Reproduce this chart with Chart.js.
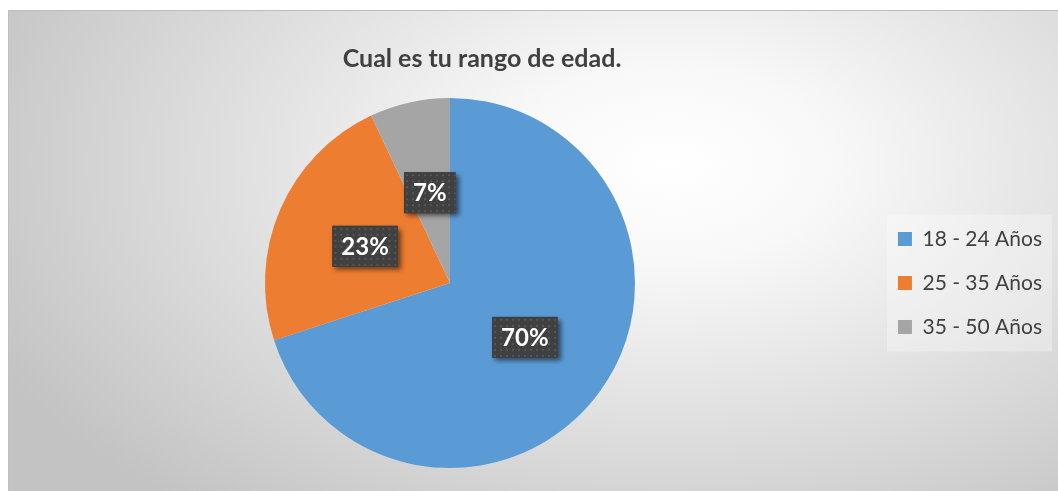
<!DOCTYPE html>
<html>
<head>
<meta charset="utf-8">
<script src="https://cdn.jsdelivr.net/npm/chart.js@4"></script>
<style>
    body { margin: 0; background: #fff; }
    #box {
        position: absolute; left: 8px; top: 10px; width: 1050px; height: 481px;
        background: radial-gradient(ellipse 72% 92% at 63% 32%, #ffffff 0%, #f8f8f8 22%, #c3c3c3 100%);
        border-top: 1px solid #bdbdbd;
        border-left: 1px solid #c0c0c0;
        box-sizing: border-box;
    }
    #title {
        position: absolute; left: 282px; width: 400px; top: 42px; text-align: center;
        font: bold 25px Lato, sans-serif; color: #404040; line-height: 30px;
    }
    #wrap { position: absolute; left: 0; top: 0; width: 1050px; height: 481px; }
</style>
</head>
<body>
<div id="box">
    <div id="wrap"><canvas id="pie"></canvas></div>
</div>
<div id="title">Cual es tu rango de edad.</div>
<script>
const labels = ['18 - 24 Años', '25 - 35 Años', '35 - 50 Años'];
const values = [70, 23, 7];
const colors = ['#5B9BD5', '#ED7D31', '#A5A5A5'];

// fondo del cuadro de leyenda
const legendBg = {
    id: 'legendBg',
    beforeDraw(chart) {
        const boxes = chart.legend.legendHitBoxes;
        if (!boxes || !boxes.length) return;
        const first = boxes[0], last = boxes[boxes.length - 1];
        const ctx = chart.ctx;
        ctx.save();
        ctx.fillStyle = 'rgba(255,255,255,0.3)';
        const x = first.left - 11;
        const y = first.top - 14;
        ctx.fillRect(x, y, 165, last.top + last.height + 14 - y);
        ctx.restore();
    }
};

// etiquetas oscuras con porcentaje
let dots = null;
const makeDots = (ctx) => {
    const c = document.createElement('canvas');
    c.width = 6; c.height = 6;
    const g = c.getContext('2d');
    g.fillStyle = '#404040';
    g.fillRect(0, 0, 6, 6);
    g.fillStyle = '#575757';
    g.fillRect(2, 2, 2, 2);
    return ctx.createPattern(c, 'repeat');
};

const pctLabels = {
    id: 'pctLabels',
    afterDatasetsDraw(chart) {
        const ctx = chart.ctx;
        if (!dots) dots = makeDots(ctx);
        const total = values.reduce((a, b) => a + b, 0);
        const meta = chart.getDatasetMeta(0);
        meta.data.forEach((arc, i) => {
            const p = arc.tooltipPosition();
            const txt = Math.round(values[i] / total * 100) + '%';
            ctx.save();
            ctx.font = 'bold 24px Lato';
            const w = ctx.measureText(txt).width + 18;
            const h = 41;
            const x = p.x - w / 2, y = p.y - h / 2;
            ctx.shadowColor = 'rgba(0,0,0,0.55)';
            ctx.shadowBlur = 5;
            ctx.shadowOffsetX = 3;
            ctx.shadowOffsetY = 3;
            ctx.fillStyle = '#404040';
            ctx.fillRect(x, y, w, h);
            ctx.shadowColor = 'transparent';
            ctx.translate(x, y);
            ctx.fillStyle = dots;
            ctx.fillRect(0, 0, w, h);
            ctx.fillStyle = '#ffffff';
            ctx.textAlign = 'center';
            ctx.textBaseline = 'middle';
            ctx.fillText(txt, w / 2, h / 2 + 1);
            ctx.restore();
        });
    }
};

const ctx = document.getElementById('pie').getContext('2d');
new Chart(ctx, {
    type: 'pie',
    data: {
        labels: labels,
        datasets: [{
            data: values,
            backgroundColor: colors,
            borderWidth: 0
        }]
    },
    options: {
        responsive: true,
        maintainAspectRatio: false,
        animation: false,
        layout: {
            padding: { top: 87, bottom: 24, left: 16, right: 7 }
        },
        plugins: {
            legend: {
                position: 'right',
                labels: {
                    boxWidth: 14,
                    boxHeight: 14,
                    padding: 23,
                    color: '#404040',
                    font: { family: 'Lato', size: 21 }
                }
            },
            tooltip: { enabled: false }
        }
    },
    plugins: [legendBg, pctLabels]
});
</script>
</body>
</html>
